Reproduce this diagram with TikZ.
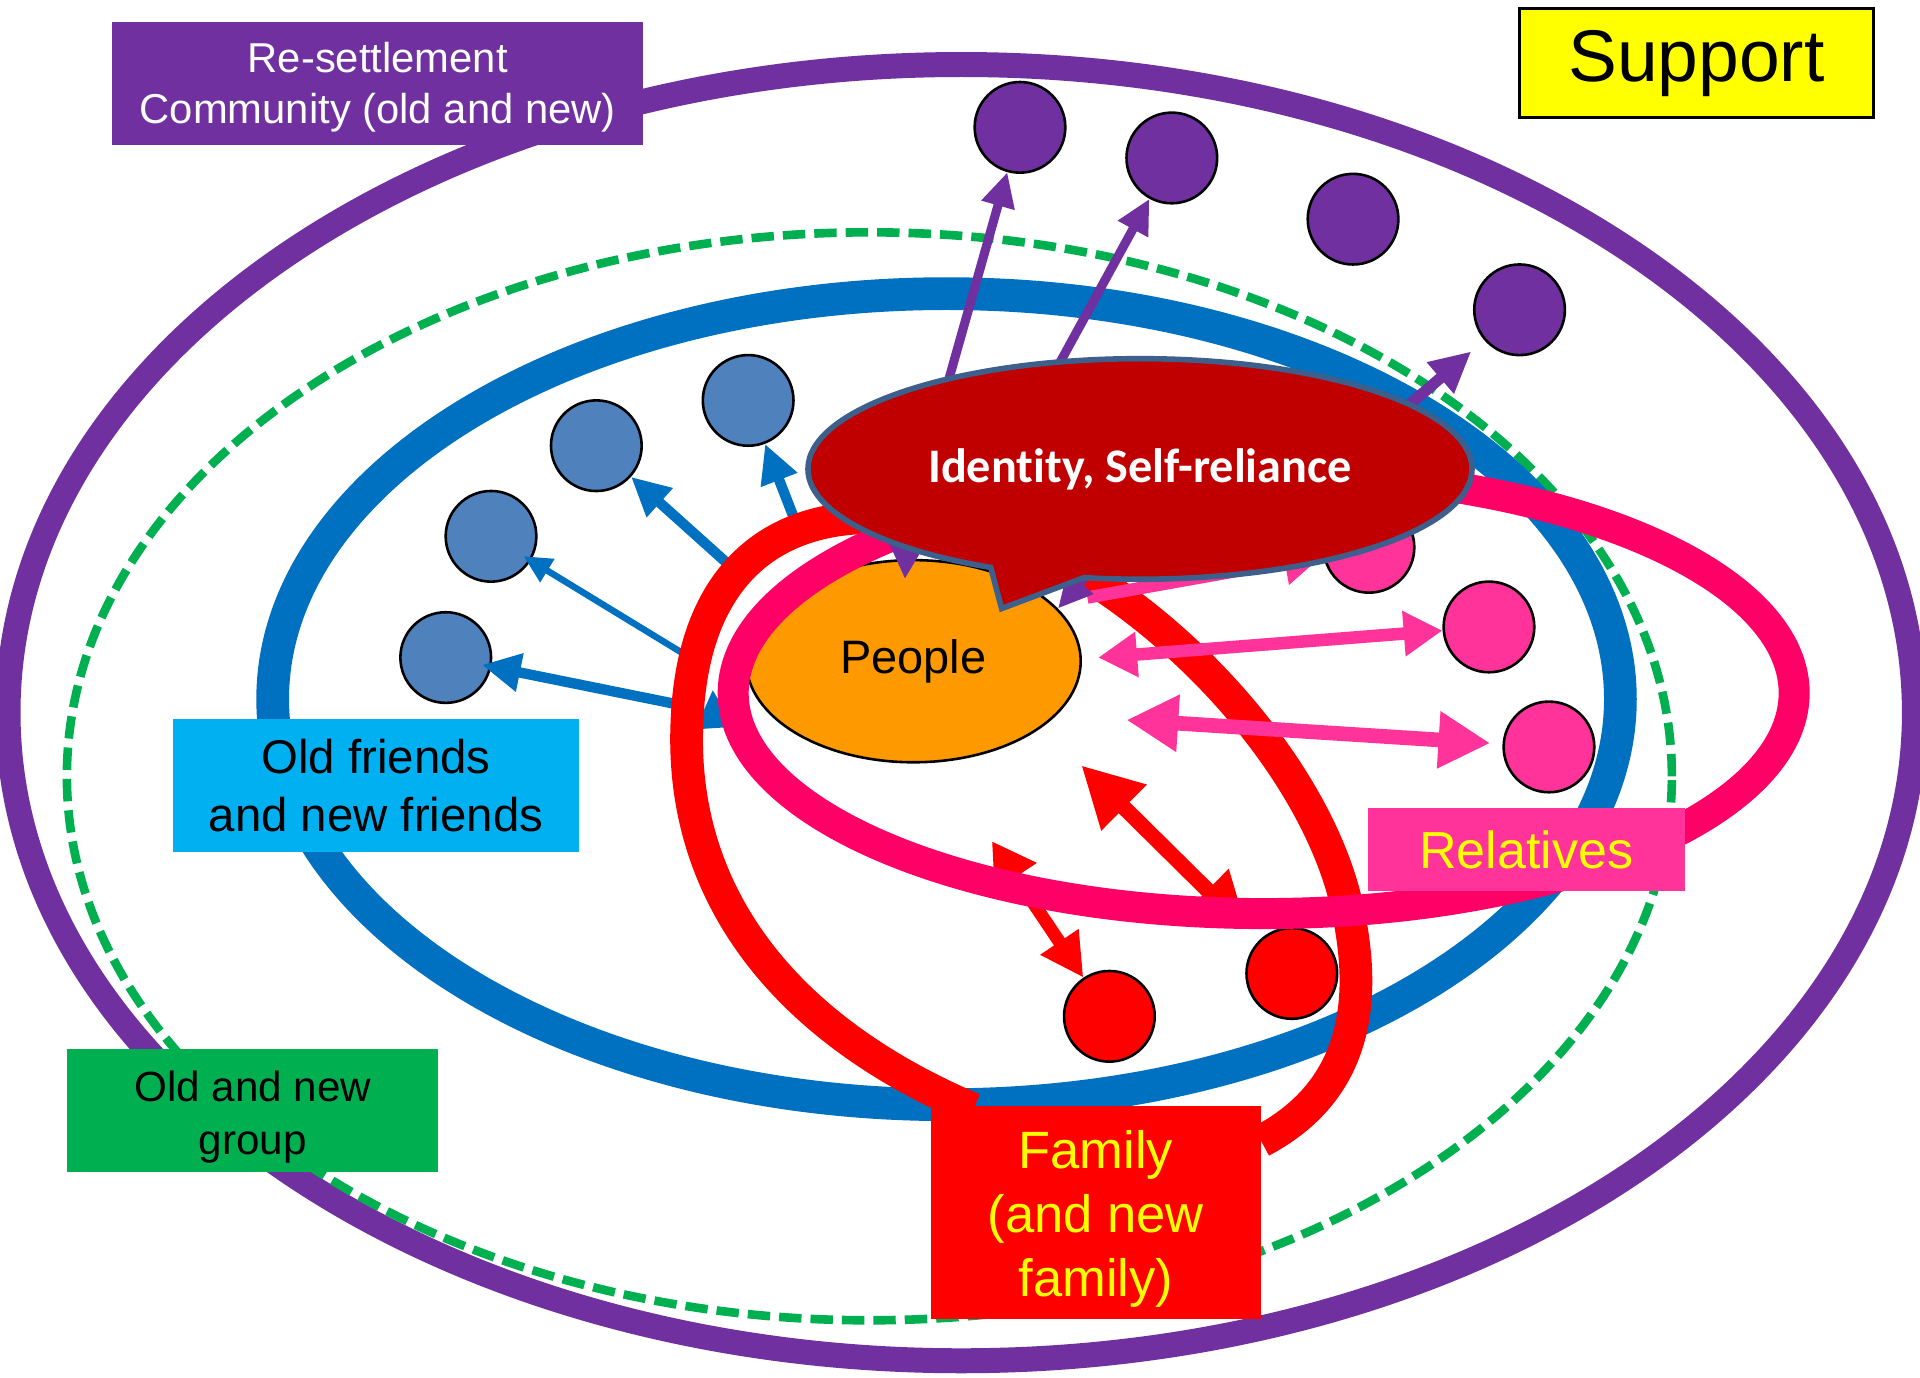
\documentclass[tikz,border=0pt]{standalone}
\usepackage{fontspec}
\setmainfont{Liberation Sans}
\newfontfamily\carlito{Carlito}[Ligatures={NoCommon,NoContextual}]
\usetikzlibrary{shapes.geometric,shapes.callouts,arrows.meta}
\definecolor{cpurple}{HTML}{7030A0}
\definecolor{cgreen}{HTML}{00B050}
\definecolor{cblue}{HTML}{0070C0}
\definecolor{cbluedot}{HTML}{4F81BD}
\definecolor{clightblue}{HTML}{00B0F0}
\definecolor{cred}{HTML}{FF0000}
\definecolor{cpinkloop}{HTML}{FF0066}
\definecolor{cpink}{HTML}{FF3399}
\definecolor{cdarkred}{HTML}{C00000}
\definecolor{cedge}{HTML}{3C5F8C}
\definecolor{corange}{HTML}{FF9900}
\definecolor{cyellow}{HTML}{FFFF00}
\begin{document}
\begin{tikzpicture}[x=0.01cm,y=-0.01cm,
  smalldot/.style={circle, draw=black, line width=0.6pt, minimum size=0.74cm, inner sep=0pt, fill=#1},
  tagbox/.style={fill=#1, inner sep=0pt, align=center},
  bluearrow/.style={draw=cblue, line width=2.4pt, -{Triangle[length=9pt,width=8.5pt]}},
  thinbluearrow/.style={draw=cblue, line width=1.5pt, -{Triangle[length=6.5pt,width=6pt]}},
  purplearrow/.style={draw=cpurple, line width=2.1pt, -{Triangle[length=8pt,width=7.5pt]}},
  pinkarrow/.style={draw=cpink, line width=2.9pt, {Triangle[length=9pt,width=10pt]}-{Triangle[length=9pt,width=10pt]}},
  bigpinkarrow/.style={draw=cpink, line width=3.4pt, {Triangle[length=12pt,width=12.5pt]}-{Triangle[length=12pt,width=12.5pt]}},
  bigredarrow/.style={draw=cred, line width=3.6pt, {Triangle[length=14pt,width=14pt]}-{Triangle[length=13pt,width=13pt]}},
  redarrow/.style={draw=cred, line width=3pt, {Triangle[length=10pt,width=11pt]}-{Triangle[length=10pt,width=10pt]}}
]
\useasboundingbox (0,0) rectangle (1568,1125);
\fill[white] (0,0) rectangle (1568,1125);

% rings
\draw[cpurple, line width=5.8pt] (785,582) ellipse [x radius=7.78cm, y radius=5.29cm];
\draw[cgreen, line width=2pt, dash pattern=on 5.2pt off 2.1pt] (710,634) ellipse [x radius=6.55cm, y radius=4.44cm];
\draw[cblue, line width=7.6pt] (773,571) ellipse [x radius=5.50cm, y radius=3.31cm];

% dots
\node[smalldot=cpurple] (pc1) at (833,104) {};
\node[smalldot=cpurple] (pc2) at (957,129) {};
\node[smalldot=cpurple] (pc3) at (1105,179) {};
\node[smalldot=cpurple] (pc4) at (1241,253) {};
\node[smalldot=cbluedot] (bc1) at (611,327) {};
\node[smalldot=cbluedot] (bc2) at (487,364) {};
\node[smalldot=cbluedot] (bc3) at (401,438) {};
\node[smalldot=cbluedot] (bc4) at (364,537) {};
\node[smalldot=cpink] (kc1) at (1118,447) {};
\node[smalldot=cpink] (kc2) at (1216,512) {};
\node[smalldot=cpink] (kc3) at (1265,610) {};
\node[smalldot=cred] (rc1) at (906,830) {};
\node[smalldot=cred] (rc2) at (1055,795) {};

% blue arrows
\coordinate (ba1) at (655,440);
\coordinate (ba2) at (605,470);
\coordinate (ba3) at (565,538);
\coordinate (ba4) at (562,577);
\coordinate (bx1) at (584,594);
\coordinate (bx2) at (582,563);
\draw[bluearrow] (ba1) -- (bc1);
\draw[bluearrow] (ba2) -- (bc2);
\draw[thinbluearrow, shorten >=-0.07cm] (ba3) -- (bc3);
\draw[bluearrow, shorten >=-0.08cm] (ba4) -- (bc4);
\draw[bluearrow] (bx1) -- (bx2);

% people
\node[ellipse, draw=black, line width=0.6pt, fill=corange, minimum width=2.73cm, minimum height=1.65cm,
  font=\fontsize{10.9}{13}\selectfont] (people) at (746,540) {People};

% red arrows
\coordinate (ra1) at (883,625);
\coordinate (ra2) at (810,687);
\draw[bigredarrow, shorten >=0.13cm] (ra1) -- (rc2);
\draw[redarrow] (ra2) -- (rc1);

% red loop
\draw[cred, line width=7.6pt, line join=round]
  (795,906) .. controls (640,840) and (555,730) .. (561,590)
  .. controls (565,480) and (620,428) .. (700,423)
  .. controls (780,420) and (850,445) .. (900,478)
  .. controls (1000,545) and (1080,650) .. (1100,740)
  .. controls (1120,830) and (1100,895) .. (1030,932);

% pink loop
\draw[cpinkloop, line width=7.2pt] (1032,566) ellipse [x radius=4.33cm, y radius=1.80cm];

% pink arrows
\coordinate (pk1) at (888,488);
\coordinate (pk2) at (897,537);
\coordinate (pk3) at (920,588);
\draw[draw=cpink, line width=2.9pt, -{Triangle[length=9pt,width=10pt]}] (pk1) -- (kc1);
\draw[pinkarrow] (pk2) -- (kc2);
\draw[bigpinkarrow, shorten >=0.1cm] (pk3) -- (kc3);

% purple arrows
\coordinate (pa1) at (772,320);
\coordinate (pa2) at (858,310);
\coordinate (pa3) at (1140,340);
\coordinate (pa4) at (742,420);
\coordinate (pt4) at (739,473);
\coordinate (pa5) at (898,458);
\coordinate (pt5) at (864,497);
\draw[purplearrow] (pa1) -- (pc1);
\draw[purplearrow] (pa2) -- (pc2);
\draw[draw=cpurple, line width=2.6pt, -{Triangle[length=9.5pt,width=9pt]}, shorten >=0.14cm] (pa3) -- (pc4);
\draw[purplearrow] (pa4) -- (pt4);
\draw[purplearrow] (pa5) -- (pt5);

% callout
\node[ellipse callout, draw=cedge, fill=cdarkred, line width=1.3pt,
  minimum width=5.42cm, minimum height=1.80cm,
  callout absolute pointer={(818,497)}, callout pointer arc=17,
  text=white, font=\carlito\bfseries\fontsize{11.2}{13}\selectfont] (identity) at (931,383) {Identity, Self-reliance};

% labels
\node[tagbox=cpurple, minimum width=4.33cm, minimum height=1.0cm, text=white,
  font=\fontsize{9.7}{11.9}\selectfont] (community) at (308.5,68) {\rule{0pt}{9pt}Re-settlement\\Community (old and new)};
\node[fill=cyellow, draw=black, line width=0.5pt, minimum width=2.89cm, minimum height=0.89cm, inner sep=0pt,
  font=\fontsize{17}{20}\selectfont] (support) at (1385.5,51.5) {Support};
\node[tagbox=clightblue, minimum width=3.32cm, minimum height=1.09cm,
  font=\fontsize{11}{13.4}\selectfont] (friends) at (307,641.5) {Old friends\\and new friends};
\node[tagbox=cgreen, minimum width=3.03cm, minimum height=1.0cm,
  font=\fontsize{9.8}{12.2}\selectfont] (group) at (206.5,907) {\rule{0pt}{10pt}Old and new\\group};
\node[tagbox=cpink, minimum width=2.59cm, minimum height=0.68cm, text=cyellow,
  font=\fontsize{12.1}{14}\selectfont] (relatives) at (1246.5,694) {Relatives};
\node[tagbox=cred, minimum width=2.70cm, minimum height=1.74cm, text=cyellow,
  font=\fontsize{12.2}{14.8}\selectfont] (family) at (895,990) {\rule{0pt}{12pt}Family\\(and new\\family)};
\end{tikzpicture}
\end{document}
